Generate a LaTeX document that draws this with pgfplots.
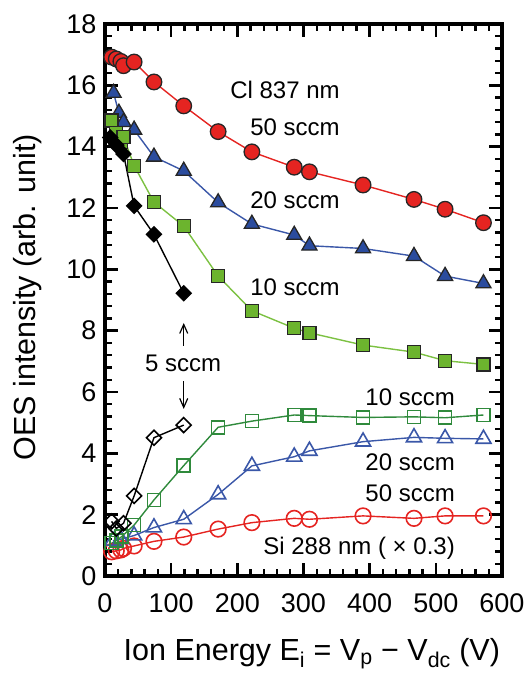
\documentclass[border=0pt]{standalone}
\usepackage{fontspec}
\setmainfont{Liberation Sans}
\usepackage{pgfplots}
\pgfplotsset{compat=1.18}
\usetikzlibrary{arrows.meta}

\definecolor{clred}{HTML}{E52421}
\definecolor{clblue}{HTML}{2B4C9E}
\definecolor{blueline}{HTML}{3A57A8}
\definecolor{cllime}{HTML}{6CB42E}
\definecolor{limeline}{HTML}{7CC142}
\definecolor{sigreen}{HTML}{2F8A3C}

% Cl 837 nm emission (filled symbols)
\pgfplotstableread{
x y
10 16.92
17 16.86
24 16.78
28 16.64
44 16.76
74 16.11
119 15.33
171 14.49
222 13.83
286 13.33
309 13.18
390 12.75
467 12.28
514 11.96
572 11.52
}\clfifty
\pgfplotstableread{
x y
13 15.75
21 15.10
28 14.80
44 14.55
74 13.67
119 13.21
171 12.18
222 11.48
286 11.12
309 10.77
390 10.68
467 10.43
514 9.78
572 9.54
}\cltwenty
\pgfplotstableread{
x y
10 14.85
17 14.45
24 14.16
28 14.32
44 13.38
74 12.19
119 11.41
171 9.78
222 8.65
286 8.08
309 7.93
390 7.53
467 7.30
514 7.02
572 6.90
}\clten
\pgfplotstableread{
x y
8 14.30
17 14.05
28 13.76
44 12.07
74 11.14
119 9.22
}\clfive
% Si 288 nm emission scaled by 0.3 (open symbols)
\pgfplotstableread{
x y
10 0.79
17 0.82
24 0.85
28 0.90
44 0.98
74 1.13
119 1.27
171 1.53
222 1.74
286 1.88
309 1.85
390 1.96
467 1.88
514 1.96
572 1.96
}\sififty
\pgfplotstableread{
x y
12 1.15
24 1.20
44 1.32
74 1.58
119 1.85
171 2.66
222 3.59
286 3.89
309 4.08
390 4.38
467 4.52
514 4.49
572 4.47
}\sitwenty
\pgfplotstableread{
x y
10 1.07
17 1.15
25 1.28
44 1.66
74 2.48
119 3.60
171 4.85
222 5.05
286 5.25
309 5.23
390 5.17
467 5.19
514 5.16
572 5.25
}\siten
\pgfplotstableread{
x y
10 1.78
17 1.55
28 1.72
44 2.61
74 4.51
119 4.92
}\sifive

\begin{document}
\begin{tikzpicture}
\useasboundingbox (-105pt,-101pt) rectangle (424pt,576pt);
\begin{axis}[
  scale only axis,
  width=397pt, height=552pt,
  xmin=0, xmax=600, ymin=0, ymax=18,
  xtick={0,100,...,600}, ytick={0,2,...,18},
  minor x tick num=4, minor y tick num=4,
  tick align=inside,
  xtick pos=both, ytick pos=both,
  major tick length=13pt, minor tick length=7pt,
  every tick/.style={black, line width=2.4pt},
  axis line style={line width=3.5pt},
  axis on top,
  /pgf/number format/assume math mode=true,
  ticklabel style={font=\fontsize{27}{29}\selectfont},
  xticklabel style={yshift=-14pt},
  yticklabel style={xshift=-5pt},
  xlabel={Ion Energy E\textsubscript{i} = V\textsubscript{p} − V\textsubscript{dc} (V)},
  ylabel={OES intensity (arb. unit)},
  label style={font=\fontsize{30.5}{32}\selectfont},
  xlabel style={at={(axis description cs:0.521,-0.153)}, anchor=base},
  ylabel style={at={(axis description cs:-0.196,0.505)}, anchor=center, rotate=0},
  every axis plot/.append style={line width=1.4pt},
]
% Cl, filled symbols
\addplot[clred, mark=*, mark size=7.8pt, mark options={fill=clred, draw=black!85, line width=1.3pt}] table {\clfifty};
\addplot[blueline, mark=triangle*, mark size=8.7pt, mark options={fill=clblue, draw=black!85, line width=1.3pt}] table {\cltwenty};
\addplot[limeline, mark=square*, mark size=6.5pt, mark options={fill=cllime, draw=black!85, line width=1.3pt}] table {\clten};
\addplot[black, mark=square*, mark size=5.3pt, mark options={rotate=45, fill=black, draw=black, line width=1.3pt}] table {\clfive};
% Si, open symbols
\addplot[clred, mark=o, mark size=7.8pt, mark options={fill=white, line width=1.6pt}] table {\sififty};
\addplot[blueline, mark=triangle, mark size=8.7pt, mark options={fill=white, line width=1.6pt}] table {\sitwenty};
\addplot[sigreen, mark=square, mark size=6.5pt, mark options={fill=white, line width=1.6pt}] table {\siten};
\addplot[black, mark=square, mark size=5.3pt, mark options={rotate=45, fill=white, line width=1.6pt}] table {\sifive};

% annotations
\begin{scope}[every node/.style={font=\fontsize{24}{26}\selectfont, inner sep=0pt}]
\node[anchor=east] at (axis cs:355,15.85) {Cl 837 nm};
\node[anchor=east] at (axis cs:355,14.64) {50 sccm};
\node[anchor=east] at (axis cs:355,12.26) {20 sccm};
\node[anchor=east] at (axis cs:355,9.42) {10 sccm};
\node at (axis cs:118,6.94) {5 sccm};
\node[anchor=east] at (axis cs:529,5.84) {10 sccm};
\node[anchor=east] at (axis cs:529,3.72) {20 sccm};
\node[anchor=east] at (axis cs:529,2.71) {50 sccm};
\node[anchor=east] at (axis cs:529,0.91) {Si 288 nm ( × 0.3)};
\end{scope}
\draw[line width=1.2pt, -{Straight Barb[length=9pt, width=8pt, line width=1.2pt]}] (axis cs:119,7.5) -- (axis cs:119,8.25);
\draw[line width=1.2pt, -{Straight Barb[length=9pt, width=8pt, line width=1.2pt]}] (axis cs:119,6.35) -- (axis cs:119,5.45);
\end{axis}
\end{tikzpicture}
\end{document}
